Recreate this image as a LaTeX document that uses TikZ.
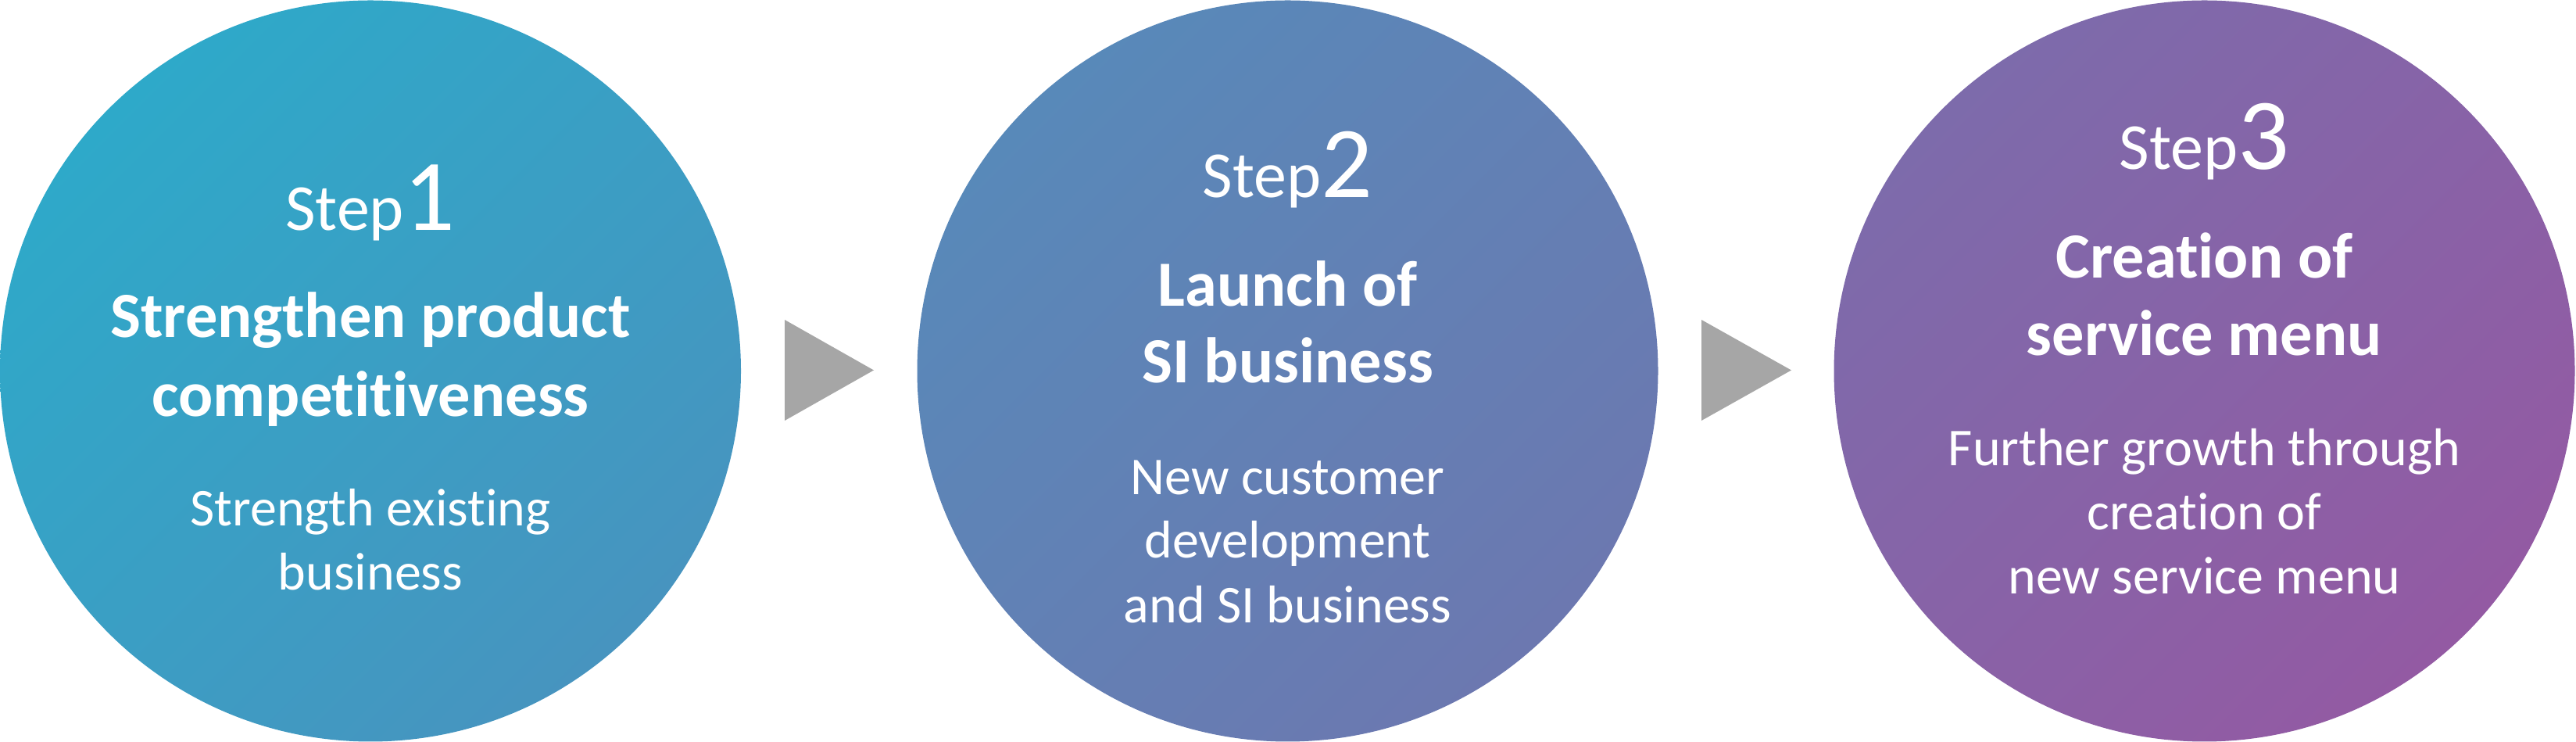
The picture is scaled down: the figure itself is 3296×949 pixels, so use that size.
\documentclass[tikz,border=0pt]{standalone}
\usepackage{fontspec}
\setmainfont{Carlito}[Ligatures=NoCommon]
\definecolor{cAa}{HTML}{2EA9C9}
\definecolor{cAb}{HTML}{4794BF}
\definecolor{cBa}{HTML}{5889B9}
\definecolor{cBb}{HTML}{6C78B0}
\definecolor{cCa}{HTML}{7D6BAB}
\definecolor{cCb}{HTML}{935AA3}
\definecolor{arrowgray}{HTML}{A6A6A6}
\newcommand{\stepword}[1]{{\fontsize{21}{25}\selectfont Step}{\fontsize{32.5}{38}\selectfont #1}}
\begin{document}
\begin{tikzpicture}[x=0.25pt,y=-0.25pt,
  disc/.style={circle, minimum size=237pt, inner sep=0pt, draw=none},
  lbl/.style={text=white, anchor=base, inner sep=0pt},
  ttl/.style={lbl, font=\fontsize{20.6}{24}\selectfont\bfseries},
  sub/.style={lbl, font=\fontsize{17}{20}\selectfont},
  tri/.style={fill=arrowgray, draw=none}]
\useasboundingbox (0,0) rectangle (3296,949);
% circles
\node[disc, top color=cAa, bottom color=cAb, shading angle=45] (c1) at (474,474.5) {};
\node[disc, top color=cBa, bottom color=cBb, shading angle=45] (c2) at (1647.5,474.5) {};
\node[disc, top color=cCa, bottom color=cCb, shading angle=45] (c3) at (2820.5,474.5) {};
% arrows
\fill[tri] (1004,409) -- (1118,473.5) -- (1004,538) -- cycle;
\fill[tri] (2177,409) -- (2292,473.5) -- (2177,538) -- cycle;
% circle 1 text
\node[lbl] (s1) at (474,295) {\stepword{1}};
\node[ttl] (t1a) at (474,432) {Strengthen product};
\node[ttl] (t1b) at (474,533) {competitiveness};
\node[sub] (u1a) at (474,673) {Strength existing};
\node[sub] (u1b) at (474,755) {business};
% circle 2 text
\node[lbl] (s2) at (1647.5,253) {\stepword{2}};
\node[ttl] (t2a) at (1647.5,392) {Launch of};
\node[ttl] (t2b) at (1647.5,490) {SI business};
\node[sub] (u2a) at (1647.5,633) {New customer};
\node[sub] (u2b) at (1647.5,714) {development};
\node[sub] (u2c) at (1647.5,797) {and SI business};
% circle 3 text
\node[lbl] (s3) at (2820.5,217) {\stepword{3}};
\node[ttl] (t3a) at (2820.5,356) {Creation of};
\node[ttl] (t3b) at (2820.5,455) {service menu};
\node[sub] (u3a) at (2820.5,596) {Further growth through};
\node[sub] (u3b) at (2820.5,678) {creation of};
\node[sub] (u3c) at (2820.5,760) {new service menu};
\end{tikzpicture}
\end{document}
